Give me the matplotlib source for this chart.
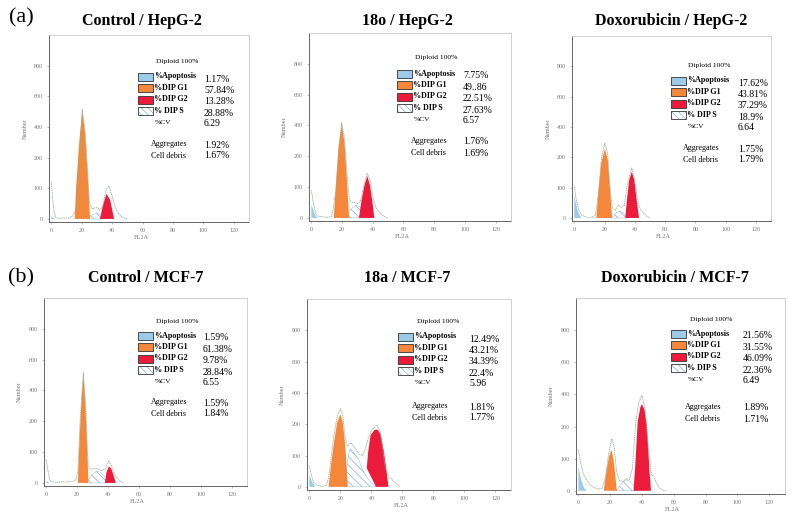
import numpy as np
import matplotlib.pyplot as plt
from matplotlib.patches import Rectangle

plt.rcParams['font.family'] = ['Liberation Serif', 'DejaVu Serif']
plt.rcParams['hatch.linewidth'] = 0.5

# %% data (FL2A channel, cell count)
# (a) HepG-2
hep_ctrl_outline = [(0, 120), (1, 60), (2, 20), (3, 5), (5, 2), (8, 3), (12, 2), (14, 10), (16, 28), (17.5, 40),
                    (19, 200), (20.3, 515), (22, 400), (23.5, 190), (25, 55), (27, 32), (30, 38), (32, 30),
                    (34, 45), (36, 95), (38, 107), (40, 75), (42, 38), (44, 20), (46, 8), (48, 2), (50, 0)]
hep_ctrl_apop = [(0, 0), (0, 10), (1, 4), (2, 0)]
hep_ctrl_g1 = [(15.4, 0), (16.3, 100), (18.3, 290), (20.3, 506), (22.2, 360), (24, 140), (25.5, 0)]
hep_ctrl_s = [(23, 0), (25, 8), (27, 14), (30, 18), (33, 14), (35, 6), (37, 0)]
hep_ctrl_g2 = [(32, 0), (34, 45), (36.3, 82), (38.7, 62), (41.3, 0)]
hep_ctrl_vals = ['1.17%', '57.84%', '13.28%', '28.88%', '6.29']
hep_ctrl_extra = ['1.92%', '1.67%']

hep_18o_outline = [(0, 90), (1, 60), (2, 30), (3, 12), (5, 5), (8, 3), (11, 2), (13, 5), (14, 20), (16, 90),
                   (18, 270), (19.8, 418), (21.5, 320), (23, 160), (24.5, 70), (26, 50), (28, 50), (30, 45),
                   (32, 55), (34, 100), (36.3, 145), (38, 125), (40, 70), (42, 35), (44, 20), (46, 10),
                   (48, 3), (50, 0)]
hep_18o_apop = [(0, 0), (0, 41), (1, 30), (2, 15), (3, 6), (4.5, 0)]
hep_18o_g1 = [(14.6, 0), (15.8, 90), (17.8, 260), (19.8, 410), (21.7, 280), (23.3, 110), (24.6, 0)]
hep_18o_s = [(22, 0), (24, 15), (26, 30), (29, 41), (32, 35), (34, 20), (36, 5), (37, 0)]
hep_18o_g2 = [(31, 0), (32.8, 60), (34.8, 110), (36.5, 136), (38.2, 105), (39.7, 55), (41, 0)]
hep_18o_vals = ['7.75%', '49..86', '22.51%', '27.63%', '6.57']
hep_18o_extra = ['1.76%', '1.69%']

hep_dox_outline = [(0, 103), (1, 70), (2, 45), (3, 25), (5, 10), (7, 4), (9, 2), (12, 3), (14, 10), (16, 80),
                   (18, 200), (20.2, 294), (22, 230), (23.5, 110), (25, 35), (27, 25), (29, 43), (31, 35),
                   (33, 40), (35, 110), (38, 165), (40, 125), (42, 50), (44, 25), (46, 15), (48, 5), (50, 0)]
hep_dox_apop = [(0, 0), (0, 76), (1, 50), (2, 30), (3, 15), (4, 5), (5, 0)]
hep_dox_g1 = [(14.6, 0), (15.8, 80), (17.8, 180), (20.2, 256), (22.2, 190), (23.7, 90), (25, 0)]
hep_dox_s = [(24, 0), (26, 10), (28, 18), (30, 22), (32, 18), (34, 8), (36, 0)]
hep_dox_g2 = [(33.7, 0), (34.8, 60), (36.3, 125), (38, 152), (39.7, 125), (41.2, 60), (42.8, 0)]
hep_dox_vals = ['17.62%', '43.81%', '37.29%', '18.9%', '6.64']
hep_dox_extra = ['1.75%', '1.79%']

# (b) MCF-7
mcf_ctrl_outline = [(0, 76), (1, 40), (2, 15), (3, 5), (5, 3), (8, 2), (10, 4), (14, 3), (17, 5), (19, 8),
                    (20.5, 40), (22, 220), (24, 514), (25.7, 260), (27, 60), (28, 45), (30, 45), (32, 48),
                    (34, 45), (36, 40), (38, 45), (40.5, 71), (42, 58), (44, 30), (46, 15), (48, 5), (50, 0)]
mcf_ctrl_apop = [(0, 0), (0, 8), (1, 3), (2, 0)]
mcf_ctrl_g1 = [(20.4, 0), (21.6, 150), (22.9, 350), (24, 500), (25.2, 330), (26.4, 120), (27.3, 0)]
mcf_ctrl_s = [(26, 0), (28, 15), (30, 30), (32.7, 38), (35, 35), (37, 25), (39, 10), (40, 0)]
mcf_ctrl_g2 = [(38, 0), (39, 35), (40.6, 54), (42.2, 45), (43.7, 22), (45, 0)]
mcf_ctrl_vals = ['1.59%', '61.38%', '9.78%', '28.84%', '6.55']
mcf_ctrl_extra = ['1.59%', '1.84%']

mcf_18a_outline = [(0, 69), (1, 45), (2, 25), (3, 12), (5, 5), (7, 3), (9, 2), (11, 5), (12.5, 30), (14, 90),
                   (16, 170), (18, 250), (20, 300), (21.5, 260), (23, 160), (24.5, 130), (26.5, 140),
                   (28, 135), (30, 120), (32, 105), (34, 100), (36, 120), (38, 155), (40, 180), (43.5, 197),
                   (45.5, 180), (47, 130), (49, 60), (51, 35), (53, 25), (55, 15), (57, 8), (58, 0)]
mcf_18a_apop = [(0, 0), (0, 37), (1, 25), (2, 14), (3, 6), (4, 0)]
mcf_18a_g1 = [(12.4, 0), (14, 70), (16, 145), (18, 215), (20, 264), (21.6, 210), (23.2, 130), (24.8, 0)]
mcf_18a_s = [(22, 0), (24, 60), (25.5, 110), (26.5, 122), (28, 115), (30, 100), (32, 85), (34, 60),
             (36, 40), (38, 25), (40, 12), (42, 4), (43, 0)]
mcf_18a_g2 = [(43, 0), (37, 60), (38, 115), (39.5, 165), (42, 182), (44, 183), (46, 168), (48, 115),
              (49.7, 55), (51, 0)]
mcf_18a_vals = ['12.49%', '43.21%', '34.39%', '22.4%', '5.96']
mcf_18a_extra = ['1.81%', '1.77%']

mcf_dox_outline = [(0, 128), (1, 100), (2, 75), (3, 55), (5, 35), (7, 20), (9, 12), (11, 8), (13, 5), (15, 8),
                   (17, 40), (19, 115), (21, 162), (22.5, 135), (24, 60), (26, 30), (28, 30), (30, 38),
                   (32, 35), (34, 70), (36, 220), (38, 350), (40, 394), (42, 310), (44, 130), (46, 50),
                   (47.5, 45), (49, 25), (51, 8), (53, 3), (55, 0)]
mcf_dox_apop = [(0, 0), (0, 76), (1, 50), (2, 30), (3, 15), (4, 6), (5.5, 0)]
mcf_dox_g1 = [(16, 0), (17.3, 50), (19.2, 105), (20.8, 128), (22.2, 95), (23.3, 45), (24.2, 0)]
mcf_dox_s = [(24, 0), (26, 15), (28, 28), (30, 34), (32, 32), (34, 20), (36, 8), (37, 0)]
mcf_dox_g2 = [(34.7, 0), (35.8, 80), (37.3, 230), (39, 320), (40, 340), (41.6, 305), (43.2, 200), (44.6, 70),
              (45.7, 0)]
mcf_dox_vals = ['21.56%', '31.55%', '46.09%', '22.36%', '6.49']
mcf_dox_extra = ['1.89%', '1.71%']

titles = ['Control / HepG-2', '18o / HepG-2', 'Doxorubicin / HepG-2',
          'Control / MCF-7', '18a / MCF-7', 'Doxorubicin / MCF-7']
stat_labels = ['%Apoptosis', '%DIP G1', '%DIP G2', '% DIP S']
ytick_vals = [0, 100, 200, 400, 600, 800]
xtick_vals = [0, 20, 40, 60, 80, 100, 120]

# colours
c_apop = '#9CCBEA'
c_g1 = '#F5873A'
c_g2 = '#EC1B3B'
c_hatch = '#7FB0D8'
c_line = '#93B093'

W, H = 791, 519


# the cytometer "Number" axis: 0-200 step 100, then 200-800 step 200 on equal spacing
def fwd(y):
    y = np.asarray(y, dtype=float)
    return np.where(y <= 200, y / 100.0, 2 + (y - 200) / 200.0)


def inv(u):
    u = np.asarray(u, dtype=float)
    return np.where(u <= 2, u * 100.0, 200 + (u - 2) * 200.0)


# panel boxes in pixels: left, top, right, bottom
# stats layout offsets (px from box top-left): box x, value x, diploid x, diploid y, first row y, aggregates x, aggregates y
panels = [
    dict(box=(49, 35, 249, 222), lay=(89, 155, 107, 27, 42, 102, 109), title_xy=(142, 21),
         data=(hep_ctrl_outline, hep_ctrl_apop, hep_ctrl_g1, hep_ctrl_s, hep_ctrl_g2), vals=hep_ctrl_vals, extra=hep_ctrl_extra),
    dict(box=(309, 33, 511, 221), lay=(88, 154, 106, 25, 41, 102, 108), title_xy=(407, 21),
         data=(hep_18o_outline, hep_18o_apop, hep_18o_g1, hep_18o_s, hep_18o_g2), vals=hep_18o_vals, extra=hep_18o_extra),
    dict(box=(572, 36, 771, 221), lay=(99, 166, 116, 29, 45, 111, 112), title_xy=(671, 21),
         data=(hep_dox_outline, hep_dox_apop, hep_dox_g1, hep_dox_s, hep_dox_g2), vals=hep_dox_vals, extra=hep_dox_extra),
    dict(box=(44, 298, 247, 486), lay=(94, 159, 112, 23, 38, 107, 104), title_xy=(146, 278),
         data=(mcf_ctrl_outline, mcf_ctrl_apop, mcf_ctrl_g1, mcf_ctrl_s, mcf_ctrl_g2), vals=mcf_ctrl_vals, extra=mcf_ctrl_extra),
    dict(box=(307, 299, 511, 490), lay=(91, 162, 110, 23, 38, 105, 107), title_xy=(407, 278),
         data=(mcf_18a_outline, mcf_18a_apop, mcf_18a_g1, mcf_18a_s, mcf_18a_g2), vals=mcf_18a_vals, extra=mcf_18a_extra),
    dict(box=(576, 298, 785, 494), lay=(95, 167, 114, 21, 36, 109, 109), title_xy=(675, 278),
         data=(mcf_dox_outline, mcf_dox_apop, mcf_dox_g1, mcf_dox_s, mcf_dox_g2), vals=mcf_dox_vals, extra=mcf_dox_extra),
]

fig = plt.figure(figsize=(W / 100, H / 100), dpi=100)

for p, title in zip(panels, titles):
    left, top, right, bottom = p['box']
    w = right - left
    h = bottom - top
    ax = fig.add_axes([left / W, 1 - bottom / H, w / W, h / H])
    ax.set_yscale('function', functions=(fwd, inv))
    ax.set_xlim(-1.5, 130)
    ax.set_ylim(-10, 1000)

    outline, apop, g1, s, g2 = p['data']
    ax.fill([q[0] for q in s], [q[1] for q in s], facecolor='white', edgecolor=c_hatch,
            hatch='\\\\\\\\', lw=0.3, zorder=2)
    ax.fill([q[0] for q in apop], [q[1] for q in apop], color=c_apop, lw=0, zorder=3)
    ax.fill([q[0] for q in g1], [q[1] for q in g1], color=c_g1, lw=0, zorder=3)
    ax.fill([q[0] for q in g2], [q[1] for q in g2], color=c_g2, lw=0, zorder=3)
    ax.plot([q[0] for q in outline], [q[1] for q in outline], color=c_line, lw=0.6,
            ls=(0, (1.5, 0.8)), zorder=4)

    ax.set_xticks(xtick_vals)
    ax.set_yticks(ytick_vals)
    ax.set_yticklabels([str(v) for v in ytick_vals])
    ax.minorticks_off()
    ax.tick_params(labelsize=4.3, labelcolor='#777777', length=1.5, width=0.4, color='#888888', pad=3)
    for side in ['top', 'right']:
        ax.spines[side].set_color('#C9C9C9')
        ax.spines[side].set_linewidth(0.6)
    for side in ['left', 'bottom']:
        ax.spines[side].set_color('#666666')
        ax.spines[side].set_linewidth(0.7)
        ax.spines[side].set_linestyle((0, (1, 1)))
    ax.text(-0.12, 0.5, 'Number', rotation=90, transform=ax.transAxes, fontsize=4.5,
            color='#777777', ha='center', va='center')
    ax.text(0.46, -15.5 / h, 'FL2A', transform=ax.transAxes, fontsize=4.5, color='#777777',
            ha='center', va='center')

    # stats block
    bx, vx, dipx, dipy, y0, aggx, aggy = p['lay']

    def pt(dx, dy):
        return (dx / w, 1 - dy / h)

    ax.text(*pt(dipx, dipy), 'Diploid 100%', transform=ax.transAxes, fontsize=5.4, va='center')
    dy = 11.4
    for i, lab in enumerate(stat_labels):
        yy = y0 + i * dy
        if i == 3:
            ax.add_patch(Rectangle(pt(bx, yy + 4), 15 / w, 8 / h, transform=ax.transAxes, facecolor='white',
                                   edgecolor=c_hatch, lw=0, hatch='\\\\\\\\\\', zorder=5))
            ax.add_patch(Rectangle(pt(bx, yy + 4), 15 / w, 8 / h, transform=ax.transAxes, facecolor='none',
                                   edgecolor='#333333', lw=0.6, zorder=6))
        else:
            ax.add_patch(Rectangle(pt(bx, yy + 4), 15 / w, 8 / h, transform=ax.transAxes,
                                   facecolor=[c_apop, c_g1, c_g2][i], edgecolor='#333333', lw=0.6, zorder=5))
        ax.text(*pt(bx + 16, yy - 0.5), lab, transform=ax.transAxes, fontsize=5.8, fontweight='bold',
                va='center')
        ax.text(*pt(vx, yy + 2), p['vals'][i], transform=ax.transAxes, fontsize=7, va='center')
    ax.text(*pt(bx + 17, y0 + 4 * dy), '%CV', transform=ax.transAxes, fontsize=5.4, va='center')
    ax.text(*pt(vx, y0 + 4 * dy + 1), p['vals'][4], transform=ax.transAxes, fontsize=7, va='center')
    ax.text(*pt(aggx, aggy), 'Aggregates', transform=ax.transAxes, fontsize=5.8, va='center')
    ax.text(*pt(vx, aggy + 1), p['extra'][0], transform=ax.transAxes, fontsize=7, va='center')
    ax.text(*pt(aggx, aggy + 12), 'Cell debris', transform=ax.transAxes, fontsize=5.8, va='center')
    ax.text(*pt(vx, aggy + 12), p['extra'][1], transform=ax.transAxes, fontsize=7, va='center')

    tx, ty = p['title_xy']
    fig.text(tx / W, 1 - ty / H, title, fontsize=11.5, fontweight='bold', ha='center', va='center')

fig.text(21 / W, 1 - 18 / H, '(a)', fontsize=16, ha='center', va='center')
fig.text(21 / W, 1 - 278 / H, '(b)', fontsize=16, ha='center', va='center')

fig.savefig('out.png', dpi=100)
